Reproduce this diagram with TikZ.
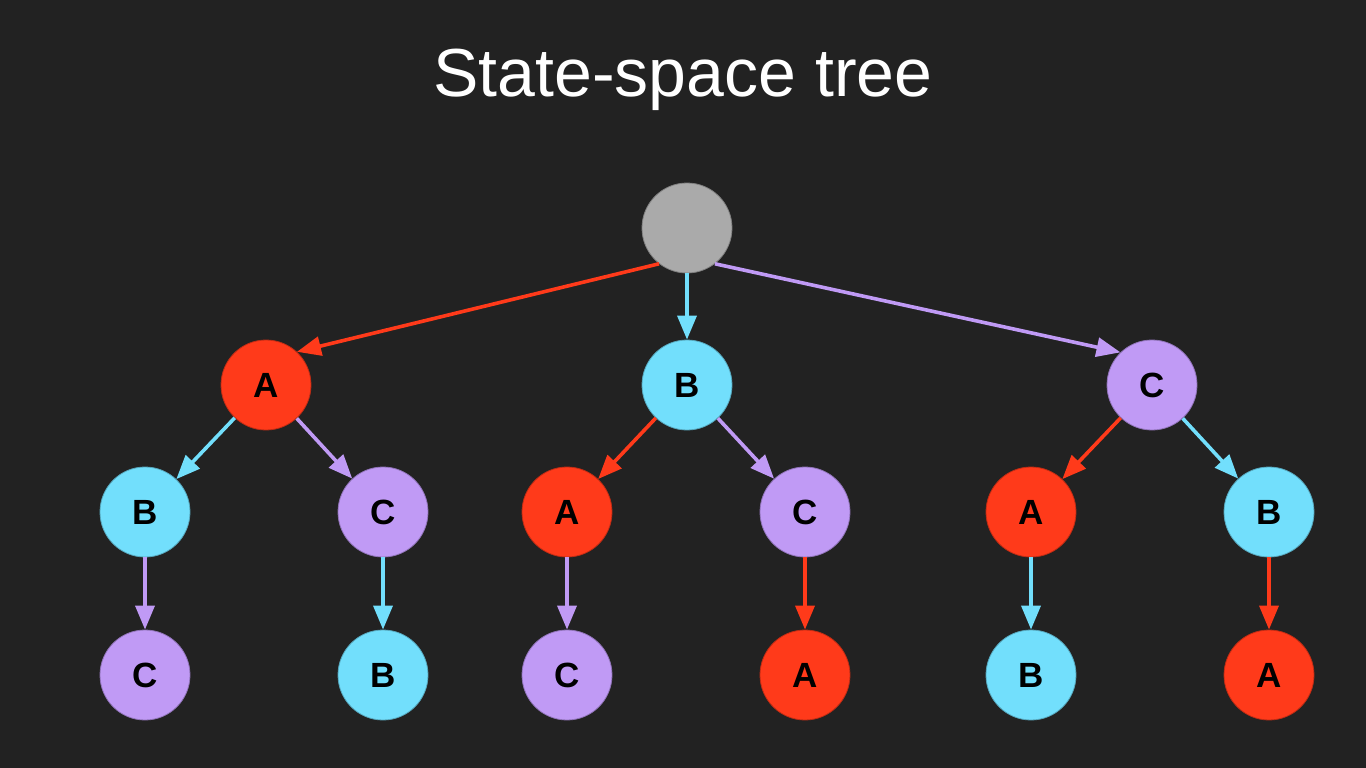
\documentclass[tikz,border=0pt]{standalone}
\usepackage{fontspec}
\setmainfont{Liberation Sans}
\usetikzlibrary{arrows.meta}
\definecolor{bg}{HTML}{222222}
\definecolor{cred}{HTML}{FF3A1A}
\definecolor{ccyan}{HTML}{72DFFC}
\definecolor{cpurp}{HTML}{C09AF5}
\definecolor{cgray}{HTML}{AAAAAA}
\tikzset{
  st/.style={circle,minimum size=90pt,inner sep=0pt,fill=#1,draw=#1!75!black,line width=0.8pt,
    font=\fontsize{35}{40}\selectfont\bfseries,text=black},
  ed/.style={draw=#1,line width=3.6pt,-{Triangle[length=24pt,width=19pt]}}
}
\begin{document}
\begin{tikzpicture}[x=1pt,y=-1pt]
\useasboundingbox[fill=bg] (0,0) rectangle (1366,768);
\node[text=white,font=\fontsize{68}{80}\selectfont,anchor=base] (title) at (683,96) {State-space tree};
\node[st=cgray] (r) at (687,228) {};
\node[st=cred] (a) at (266,385) {A};
\node[st=ccyan] (b) at (687,385) {B};
\node[st=cpurp] (c) at (1152,385) {C};
\node[st=ccyan] (ab) at (145,512) {B};
\node[st=cpurp] (ac) at (383,512) {C};
\node[st=cred] (ba) at (567,512) {A};
\node[st=cpurp] (bc) at (805,512) {C};
\node[st=cred] (ca) at (1031,512) {A};
\node[st=ccyan] (cb) at (1269,512) {B};
\node[st=cpurp] (abc) at (145,675) {C};
\node[st=ccyan] (acb) at (383,675) {B};
\node[st=cpurp] (bac) at (567,675) {C};
\node[st=cred] (bca) at (805,675) {A};
\node[st=ccyan] (cab) at (1031,675) {B};
\node[st=cred] (cba) at (1269,675) {A};
\draw[ed=cred] (r.-128) -- (a.47);
\draw[ed=ccyan] (r.south) -- (b.north);
\draw[ed=cpurp] (r.-52) -- (c.134);
\draw[ed=ccyan] (a) -- (ab);
\draw[ed=cpurp] (a) -- (ac);
\draw[ed=cred] (b) -- (ba);
\draw[ed=cpurp] (b) -- (bc);
\draw[ed=cred] (c) -- (ca);
\draw[ed=ccyan] (c) -- (cb);
\draw[ed=cpurp] (ab) -- (abc);
\draw[ed=ccyan] (ac) -- (acb);
\draw[ed=cpurp] (ba) -- (bac);
\draw[ed=cred] (bc) -- (bca);
\draw[ed=ccyan] (ca) -- (cab);
\draw[ed=cred] (cb) -- (cba);
\end{tikzpicture}
\end{document}
